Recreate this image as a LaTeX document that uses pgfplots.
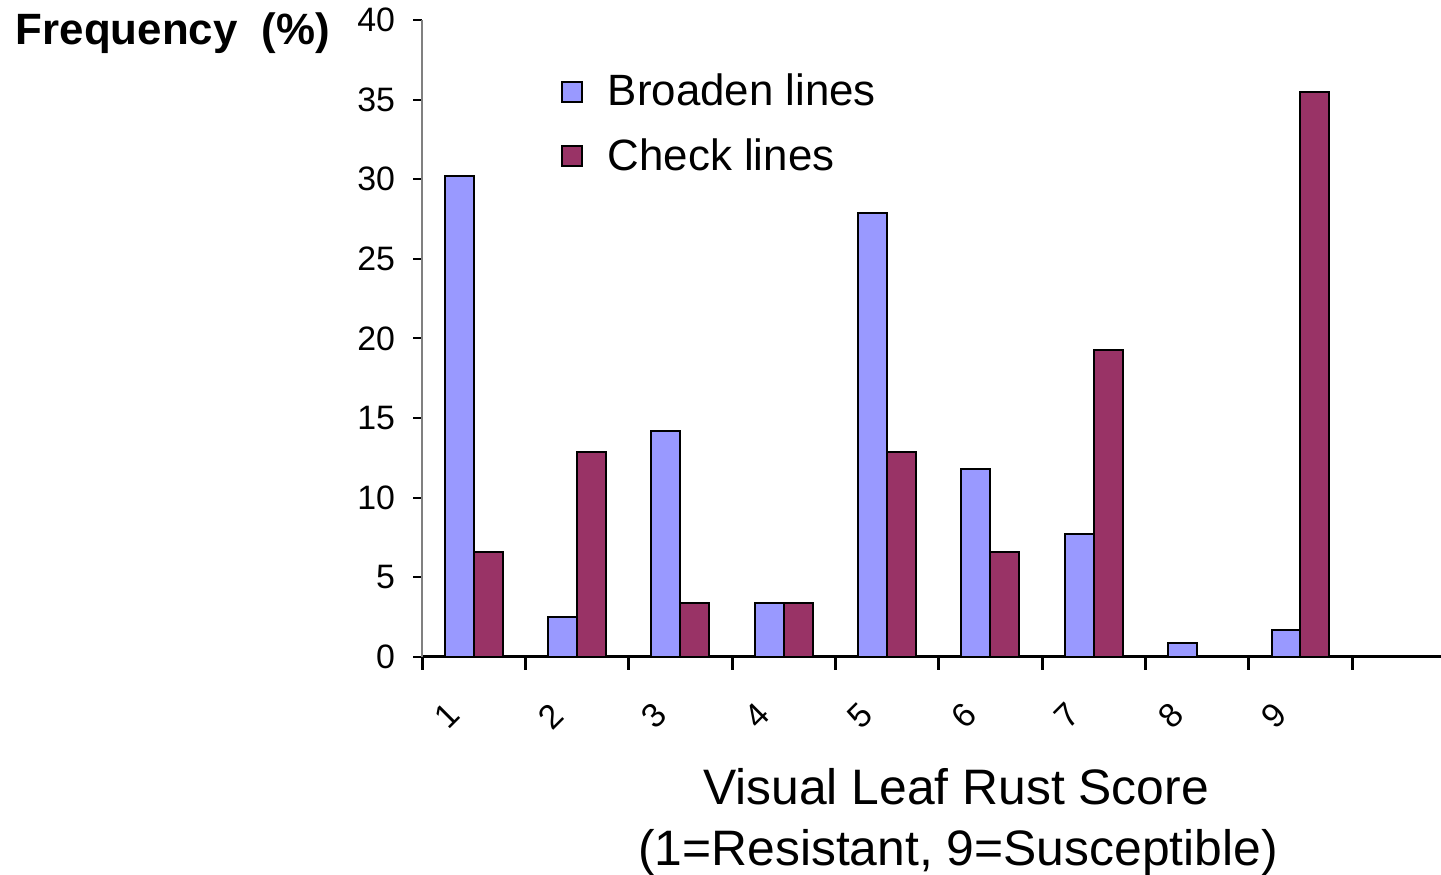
\documentclass[border=0pt]{standalone}
\usepackage{pgfplots}
\pgfplotsset{compat=1.18}
\usepackage{fontspec}
\setmainfont{Liberation Sans}
\definecolor{broaden}{HTML}{9999FF}
\definecolor{check}{HTML}{993366}
\pgfplotsset{
  sq legend/.style={legend image code/.code={%
      \draw[##1, line width=1bp] (0bp,-5bp) rectangle (10bp,5bp);}},
}
\begin{document}
\begin{tikzpicture}[x=1bp,y=1bp]
\path[use as bounding box] (0,0) rectangle (720.5,437.5);
\begin{axis}[
  at={(211bp,109bp)}, anchor=south west,
  scale only axis, width=509.5bp, height=318.5bp,
  xmin=0, xmax=9.86, ymin=0, ymax=40,
  axis x line*=bottom, axis y line*=left,
  x axis line style={black, line width=1.5bp},
  y axis line style={gray, line width=1bp},
  tick align=outside,
  major tick length=4.5bp,
  xtick={0,...,9},
  xticklabels={1,2,3,4,5,6,7,8,9,{}},
  xtick style={black, line width=1.5bp, /pgfplots/major tick length=6.5bp},
  ytick={0,5,...,40},
  ytick style={black, line width=1bp},
  /pgf/number format/assume math mode=true,
  yticklabel style={font=\fontsize{17}{20}\selectfont, xshift=-5.5bp},
  xticklabel style={font=\fontsize{17}{20}\selectfont, anchor=center,
    xshift=12.5bp, yshift=-25bp, rotate=45},
  legend style={draw=none, fill=none, at={(rel axis cs:0.13,0.928)}, anchor=north west,
    font=\fontsize{22}{26}\selectfont, row sep=11bp, column sep=5.5bp,
    nodes={inner xsep=7bp}},
  legend cell align=left,
  clip=false,
]
\addplot[ybar, bar width=0.28, bar shift=-0.14, fill=broaden, draw=black,
  line width=1bp, sq legend] coordinates {
  (0.5,30.2) (1.5,2.5) (2.5,14.2) (3.5,3.4) (4.5,27.9)
  (5.5,11.8) (6.5,7.7) (7.5,0.9) (8.5,1.7)};
\addlegendentry{Broaden lines}
\addplot[ybar, bar width=0.28, bar shift=0.14, fill=check, draw=black,
  line width=1bp, sq legend] coordinates {
  (0.5,6.6) (1.5,12.9) (2.5,3.4) (3.5,3.4) (4.5,12.9)
  (5.5,6.6) (6.5,19.3) (8.5,35.5)};
\addlegendentry{Check lines}
\end{axis}
\node[anchor=base, font=\fontsize{22}{26}\selectfont\bfseries] at (86.5,415) {Frequency\ \ (\%)};
\node[anchor=base, font=\fontsize{25}{30}\selectfont] at (478,35) {Visual Leaf Rust Score};
\node[anchor=base, font=\fontsize{25}{30}\selectfont] at (479,4.5) {(1=Resistant, 9=Susceptible)};
\end{tikzpicture}
\end{document}
